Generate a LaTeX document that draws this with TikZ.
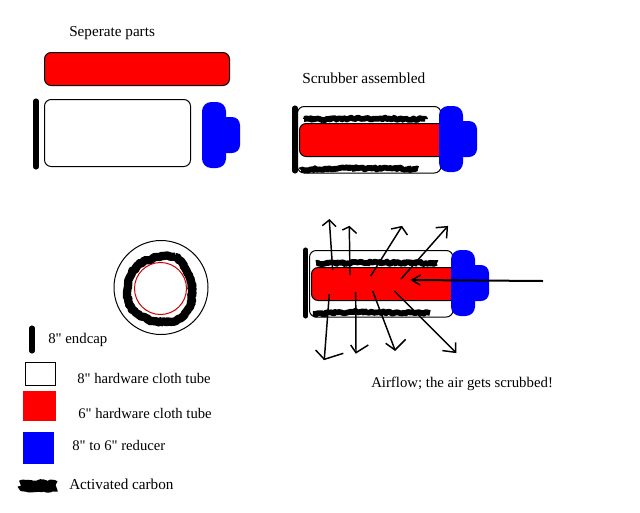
\documentclass[tikz,border=0pt]{standalone}
\usepackage{fontspec}
\setmainfont{Liberation Serif}[Ligatures=TeXOff]
\usetikzlibrary{calc,decorations.pathmorphing}
\tikzset{
  every node/.style={inner sep=0pt,anchor=west,text=black},
  fs/.style={font=\fontsize{#1pt}{13pt}\selectfont},
  outline/.style={draw=black,line width=.75pt},
  whitetube/.style={outline,fill=white,rounded corners=5pt},
  redtube/.style={draw=black,line width=.75pt,fill=red,rounded corners=5pt},
  endbar/.style={draw=black,line width=3.8pt,line cap=round},
  carbon/.style={draw=black,line width=4.3pt,line join=round,
    decorate,decoration={random steps,segment length=1.2pt,amplitude=.9pt}},
  flow/.style={draw=black,line width=1.1pt,line join=miter},
  reducer/.pic={
    \fill[blue,rounded corners=7pt] (0,0) rectangle (24,66);
    \fill[blue,rounded corners=6pt] (8,15) rectangle (38,51);
  }
}
\begin{document}
\begin{tikzpicture}[x=.75pt,y=-.75pt]
\useasboundingbox[fill=white] (0,0) rectangle (640,512);

% Separate parts
\node[fs=11.4] (t1) at (69,33) {Seperate parts};
\path[redtube] (44.5,52.5) rectangle (229.5,85.5);
\path[whitetube] (44.5,99.5) rectangle (190.5,166.5);
\draw[endbar] (36,101) -- (36,167);
\pic at (202,102) {reducer};

% Assembled
\node[fs=11.5] (t2) at (302,78) {Scrubber assembled};
\path[whitetube] (297.5,106.5) rectangle (441,173);
\draw[carbon] (304,119) -- (360,118.5) -- (425,119);
\draw[carbon] (301,170) -- (340,168) -- (418,169);
\path[redtube] (299.5,123.5) rectangle (445,156.5);
\draw[endbar] (295,108) -- (295,171);
\pic at (439,106) {reducer};

% Airflow
\path[whitetube] (309.5,250.5) rectangle (453,317);
\draw[carbon] (316,263) -- (372,262.5) -- (437,263);
\draw[carbon] (313,314) -- (352,312) -- (430,313);
\path[redtube] (311.5,267.5) rectangle (457,300.5);
\draw[endbar] (305.7,250) -- (305.7,316);
\pic at (451,250) {reducer};

\coordinate (a1s) at (332.7,270); \coordinate (a1e) at (329.3,220);
\coordinate (a2s) at (350,275);   \coordinate (a2e) at (349.3,226.7);
\coordinate (a3s) at (370.7,276); \coordinate (a3e) at (401.7,226.7);
\coordinate (a4s) at (401,279);   \coordinate (a4e) at (447.3,226.7);
\coordinate (a5s) at (543,281);   \coordinate (a5e) at (411.7,280);
\coordinate (a6s) at (329.3,294); \coordinate (a6e) at (324.3,359.3);
\coordinate (a7s) at (355.7,292); \coordinate (a7e) at (356,352.7);
\coordinate (a8s) at (372.7,291); \coordinate (a8e) at (395,350);
\coordinate (a9s) at (394.3,291); \coordinate (a9e) at (455.7,352.3);
\foreach \k/\ax/\ay/\bx/\by in {1/-7/5.7/6.7/6.7,2/-7/3.3/7.3/6.7,3/-10.7/2.3/5.7/8.3,4/-11.7/1/-.7/11.7,
    6/-8.7/-9.3/19/-6,7/-5.3/-7.7/12.3/-7.7,8/-9.3/-6.7/10.7/-10.7,9/-13.3/-1.7/0/-10}{
  \draw[flow] (a\k s) -- (a\k e);
  \draw[flow] ($(a\k e)+(\ax,\ay)$) -- (a\k e) -- ($(a\k e)+(\bx,\by)$);
}
\draw[flow,line width=1.5pt] (a5s) -- (a5e);
\draw[flow] ($(a5e)+(9,-5)$) -- (a5e) -- ($(a5e)+(8.3,5)$);
\node[fs=11.1] (t3) at (371,384) {Airflow; the air gets scrubbed!};

% Cross-section
\node[circle,outline,minimum size=70.5pt,anchor=center] (outer) at (161,287.5) {};
\draw[draw=black,line width=6.2pt,line join=round,decorate,
  decoration={random steps,segment length=1.2pt,amplitude=.7pt}]
  plot[smooth cycle,tension=.6] coordinates {(160,257) (175,257) (185,268) (192,287) (189,308) (177,320) (153,321) (133,310) (127,293) (132,273) (143,262)};
\node[circle,draw=red!80!black,line width=.75pt,minimum size=39pt,anchor=center] (inner) at (160.5,288.5) {};

% Legend
\draw[endbar] (32,328) -- (32,351);
\node[fs=11.1] (l1) at (48,340) {8" endcap};
\node[outline,minimum width=22.5pt,minimum height=17.25pt] (k2) at (25,373.5) {};
\node[fs=11] (l2) at (77,378) {8" hardware cloth tube};
\fill[red] (23,391) rectangle (56,421);
\node[fs=11] (l3) at (78,413) {6" hardware cloth tube};
\fill[blue] (23,432) rectangle (54,464);
\node[fs=11] (l4) at (72,445) {8" to 6" reducer};
\draw[carbon,line width=8.5pt] (21,486) -- (56,486);
\node[fs=11.4] (l5) at (69,484) {Activated carbon};
\end{tikzpicture}
\end{document}
